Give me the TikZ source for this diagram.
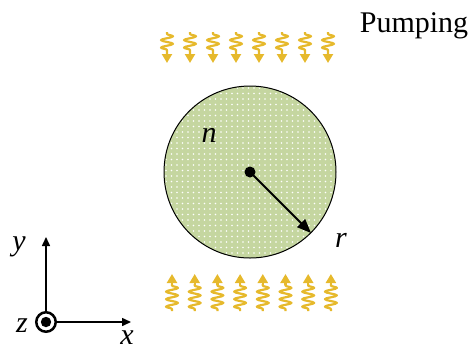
\documentclass[tikz,border=0pt]{standalone}
\usepackage{fontspec}
\setmainfont{Liberation Serif}
\usetikzlibrary{arrows.meta,decorations.pathmorphing}

\definecolor{gaingreen}{HTML}{C5D6A0}
\definecolor{pumpgold}{HTML}{E6B92C}

\begin{document}
\begin{tikzpicture}[x=1pt, y=-1pt,
		every node/.style={font=\fontsize{30}{34}\selectfont, inner sep=0pt},
		pump/.style={pumpgold, line width=2.2pt, line join=round,
			decorate, decoration={snake, segment length=7.5pt, amplitude=6pt, pre length=2pt, post length=0.5pt}},
		pumptip/.style={pumpgold, line width=2.2pt, -{Triangle[length=9pt, width=10pt]}},
		axis/.style={line width=1.5pt, -{Triangle[length=9pt, width=8pt]}}]
		% 0. Fix the page size
		\useasboundingbox (0,0) rectangle (474,349);

		% 1. Draw the gain disc with its dot texture
		\fill[gaingreen] (250,172) circle (86);
		\begin{scope}
			\clip (250,172) circle (85);
			\foreach \px in {0,...,31} {
				\foreach \py in {0,...,31} {
					\fill[white] ({166+5.5*\px},{88+5.5*\py}) circle (0.8);
				}
			}
		\end{scope}
		\draw[line width=1pt] (250,172) circle (86);

		% 2. Radius arrow from the centre
		\node[circle, fill, minimum size=11pt] (ctr) at (250,172) {};
		\coordinate (rim) at (311,233);
		\draw[line width=2pt, -{Triangle[length=14pt, width=11pt]}] (ctr.center) -- (rim);
		\node[anchor=base] (rlbl) at (341,247) {\textit{r}};
		\node[anchor=base] (nlbl) at (209,142) {\textit{n}};

		% 3. Pump springs, top row pointing down
		\foreach \i in {0,...,7} {
			\draw[pump] ({167+23*\i},32) -- ({167+23*\i},54);
			\draw[pumptip] ({167+23*\i},53) -- ({167+23*\i},63);
		}
		% Bottom row pointing up
		\foreach \i in {0,...,7} {
			\draw[pump] ({172+22.7*\i},311) -- ({172+22.7*\i},284);
			\draw[pumptip] ({172+22.7*\i},285) -- ({172+22.7*\i},274);
		}
		\node[anchor=base] (pumplbl) at (414,32) {Pumping};

		% 4. Coordinate axes
		\node[circle, draw, line width=2.5pt, minimum size=19.5pt] (org) at (46,322) {};
		\fill (org.center) circle (5.2);
		\coordinate (ytip) at (46,237);
		\coordinate (xtip) at (131,322);
		\draw[axis] (org.north) -- (ytip);
		\draw[axis] (org.east) -- (xtip);
		\node[anchor=base] (ylbl) at (19,250) {\textit{y}};
		\node[anchor=base] (zlbl) at (22,332) {\textit{z}};
		\node[anchor=base] (xlbl) at (127,344) {\textit{x}};
\end{tikzpicture}
\end{document}
